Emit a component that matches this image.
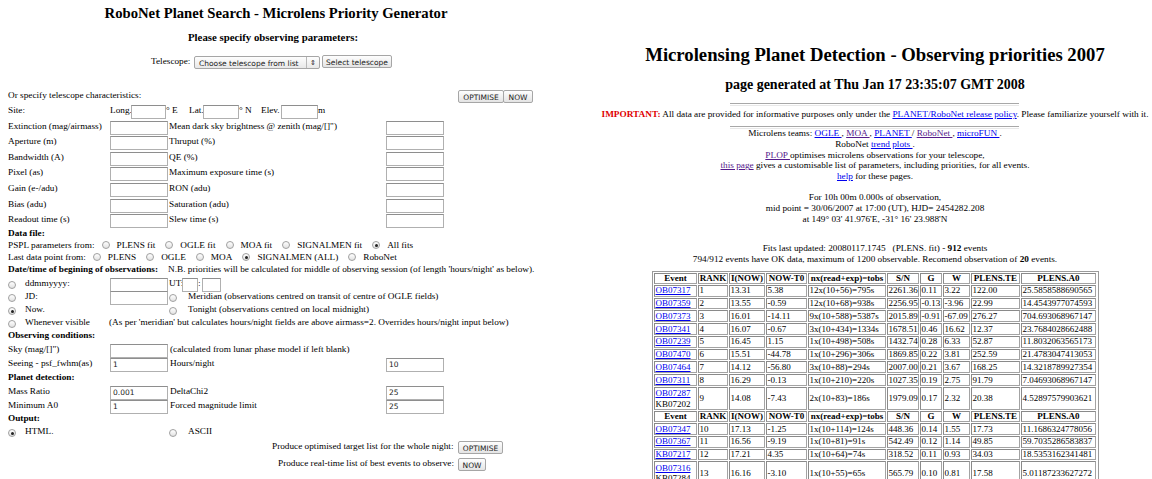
import React from 'react';

// two page screenshots: a PLOP form on the left, the priority table on the right
const paramLabels = ['Extinction (mag/airmass)', 'Aperture (m)', 'Bandwidth (A)', 'Pixel (as)', 'Gain (e-/adu)', 'Bias (adu)', 'Readout time (s)'];
const paramLabels2 = ['Mean dark sky brightness @ zenith (mag/[]")', 'Thruput (%)', 'QE (%)', 'Maximum exposure time (s)', 'RON (adu)', 'Saturation (adu)', 'Slew time (s)'];
const psplOptions = ['PLENS fit', 'OGLE fit', 'MOA fit', 'SIGNALMEN fit', 'All fits'];
const lastPointOptions = ['PLENS', 'OGLE', 'MOA', 'SIGNALMEN (ALL)', 'RoboNet'];

const headers = ['Event', 'RANK', 'I(NOW)', 'NOW-T0', 'nx(read+exp)=tobs', 'S/N', 'G', 'W', 'PLENS.TE', 'PLENS.A0'];
const eventIds = ['OB07317', 'OB07359', 'OB07373', 'OB07341', 'OB07239', 'OB07470', 'OB07464', 'OB07311', 'OB07287', 'OB07347', 'OB07367', 'KB07217', 'OB07316'];
const altIds = ['', '', '', '', '', '', '', '', 'KB07202', '', '', '', 'KB07284'];
const ranks = [1, 2, 3, 4, 5, 6, 7, 8, 9, 10, 11, 12, 13];
const iNow = [13.31, 13.55, 16.01, 16.07, 16.45, 15.51, 14.12, 16.29, 14.08, 17.13, 16.56, 17.21, 16.16];
const nowT0 = [5.38, -0.59, -14.11, -0.67, 1.15, -44.78, -56.8, -0.13, -7.43, -1.25, -9.19, 4.35, -3.1];
const exposures = ['12x(10+56)=795s', '12x(10+68)=938s', '9x(10+588)=5387s', '3x(10+434)=1334s', '1x(10+498)=508s', '1x(10+296)=306s', '3x(10+88)=294s', '1x(10+210)=220s', '2x(10+83)=186s', '1x(10+114)=124s', '1x(10+81)=91s', '1x(10+64)=74s', '1x(10+55)=65s'];
const signalNoise = [2261.36, 2256.95, 2015.89, 1678.51, 1432.74, 1869.85, 2007.0, 1027.35, 1979.09, 448.36, 542.49, 318.52, 565.79];
const gValues = [0.11, -0.13, -0.91, 0.46, 0.28, 0.22, 0.21, 0.19, 0.17, 0.14, 0.12, 0.11, 0.1];
const wValues = [3.22, -3.96, -67.09, 16.62, 6.33, 3.81, 3.67, 2.75, 2.32, 1.55, 1.14, 0.93, 0.81];
const plensTE = [122.0, 22.99, 276.27, 12.37, 52.87, 252.59, 168.25, 91.79, 20.38, 17.73, 49.85, 34.03, 17.58];
const plensA0 = ['25.5858588690565', '14.4543977074593', '704.693068967147', '23.7684028662488', '11.8032063565173', '21.4783047413053', '14.3218789927354', '7.04693068967147', '4.52897579903621', '11.1686324778056', '59.7035286583837', '18.5353162341481', '5.01187233627272'];

const SERIF = '"Liberation Serif", "Times New Roman", serif';
const SANS = '"DejaVu Sans", "Noto Sans", sans-serif';
const LINK = '#0000ee';
const VISITED = '#551a8b';
const BODY = 9.25;

function Txt({ x, y, size = BODY, bold = false, center = false, color = '#000', children }: any) {
  return (
    <div style={{
      position: 'absolute', left: x, top: y - size * 0.62, fontSize: size, lineHeight: `${size * 1.2}px`,
      fontWeight: bold ? 'bold' : 'normal', color, whiteSpace: 'nowrap', fontFamily: SERIF,
      transform: center ? 'translateX(-50%)' : undefined,
    }}>{children}</div>
  );
}

function Box({ x, y, w = 54, value = '' }: any) {
  return (
    <div style={{
      position: 'absolute', left: x, top: y - 6.5, width: w, height: 12, border: '1px solid #b0b0b0',
      borderTopColor: '#8e8e8e', background: '#fff', fontFamily: SANS, fontSize: 7.5, lineHeight: '12px',
      paddingLeft: 2, boxSizing: 'content-box', color: '#222',
    }}>{value}</div>
  );
}

function Btn({ x, y, w, label }: any) {
  return (
    <div style={{
      position: 'absolute', left: x, top: y - 7, width: w, height: 13, border: '1px solid #a6a6a6', borderRadius: 2,
      background: 'linear-gradient(#fefefe, #e4e4e4)', fontFamily: SANS, fontSize: 7.5, lineHeight: '13px',
      textAlign: 'center', color: '#222', boxSizing: 'border-box',
    }}>{label}</div>
  );
}

const radioStyle: any = {
  width: 8, height: 8, borderRadius: '50%', border: '1px solid #a0a0a0',
  background: 'linear-gradient(#fff, #e2e2e2)', boxSizing: 'border-box',
};

function Radio({ x, y, on = false }: any) {
  return (
    <div style={{ ...radioStyle, position: 'absolute', left: x - 4, top: y - 4 }}>
      {on && <div style={{ position: 'absolute', left: 2, top: 2, width: 3, height: 3, borderRadius: '50%', background: '#222' }} />}
    </div>
  );
}

function InlineRadio({ on = false }: any) {
  return (
    <span style={{ ...radioStyle, display: 'inline-block', position: 'relative', verticalAlign: '-1px', margin: '0 7px 0 7px' }}>
      {on && <span style={{ position: 'absolute', left: 2, top: 2, width: 3, height: 3, borderRadius: '50%', background: '#222' }} />}
    </span>
  );
}

function A({ children, visited = false }: any) {
  return <span style={{ color: visited ? VISITED : LINK, textDecoration: 'underline' }}>{children}</span>;
}

function RadioRow({ x, y, label, options, selected }: any) {
  return (
    <Txt x={x} y={y}>
      {label}
      {options.map((o: string, i: number) => (
        <React.Fragment key={o}>
          <InlineRadio on={i === selected} />
          <span style={{ marginRight: 3 }}>{o}</span>
        </React.Fragment>
      ))}
    </Txt>
  );
}

function LeftPage() {
  const rowY = [127, 142, 158, 173, 189, 205, 220];
  return (
    <>
      <Txt x={276} y={14} size={14.7} bold center>RoboNet Planet Search - Microlens Priority Generator</Txt>
      <Txt x={273} y={38} size={10.8} bold center>Please specify observing parameters:</Txt>
      <Txt x={151} y={62}>Telescope:</Txt>
      <div style={{
        position: 'absolute', left: 194, top: 56, width: 126, height: 13, border: '1px solid #a6a6a6', borderRadius: 2,
        background: 'linear-gradient(#fefefe, #e8e8e8)', fontFamily: SANS, fontSize: 7.5, lineHeight: '13px', paddingLeft: 4,
        boxSizing: 'border-box', color: '#222',
      }}>
        Choose telescope from list
        <div style={{ position: 'absolute', right: 0, top: 0, width: 12, height: 11, borderLeft: '1px solid #b8b8b8', fontSize: 7, textAlign: 'center' }}>⇕</div>
      </div>
      <Btn x={322} y={62} w={70} label="Select telescope" />

      <Txt x={8} y={96}>Or specify telescope characteristics:</Txt>
      <Btn x={458} y={97} w={46} label="OPTIMISE" />
      <Btn x={503} y={97} w={30} label="NOW" />

      <Txt x={8} y={111}>Site:</Txt>
      <Txt x={110} y={111}>Long.</Txt>
      <Box x={131} y={111} w={31} />
      <Txt x={166} y={111}>° E</Txt>
      <Txt x={189} y={111}>Lat.</Txt>
      <Box x={203} y={111} w={32} />
      <Txt x={239} y={111}>° N</Txt>
      <Txt x={261} y={111}>Elev.</Txt>
      <Box x={281} y={111} w={33} />
      <Txt x={318} y={111}>m</Txt>

      {paramLabels.map((lab, i) => (
        <React.Fragment key={lab}>
          <Txt x={8} y={rowY[i]}>{lab}</Txt>
          <Box x={110} y={rowY[i]} />
          <Txt x={169} y={rowY[i]}>{paramLabels2[i]}</Txt>
          <Box x={386} y={rowY[i]} />
        </React.Fragment>
      ))}

      <Txt x={8} y={234} bold>Data file:</Txt>
      <RadioRow x={8} y={246} label="PSPL parameters from:" options={psplOptions} selected={4} />
      <RadioRow x={8} y={258} label="Last data point from:" options={lastPointOptions} selected={3} />
      <Txt x={8} y={270} bold>Date/time of begining of observations:</Txt>
      <Txt x={168} y={270}>N.B. priorities will be calculated for middle of observing session (of length 'hours/night' as below).</Txt>

      <Radio x={12} y={285} />
      <Txt x={25} y={284}>ddmmyyyy:</Txt>
      <Box x={110} y={284} />
      <Txt x={169} y={284}>UT:</Txt>
      <Box x={182} y={284} w={12} />
      <Txt x={198} y={284}>:</Txt>
      <Box x={202} y={284} w={15} />

      <Radio x={12} y={298} />
      <Txt x={25} y={297}>JD:</Txt>
      <Box x={110} y={297} />
      <Radio x={173} y={298} />
      <Txt x={188} y={297}>Meridian (observations centred on transit of centre of OGLE fields)</Txt>

      <Radio x={12} y={311} on />
      <Txt x={25} y={310}>Now.</Txt>
      <Radio x={173} y={311} />
      <Txt x={188} y={310}>Tonight (observations centred on local midnight)</Txt>

      <Radio x={12} y={324} />
      <Txt x={25} y={323}>Whenever visible</Txt>
      <Txt x={109} y={323}>(As per 'meridian' but calculates hours/night fields are above airmass=2. Overrides hours/night input below)</Txt>

      <Txt x={8} y={336} bold>Observing conditions:</Txt>
      <Txt x={8} y={350}>Sky (mag/[]")</Txt>
      <Box x={110} y={350} />
      <Txt x={170} y={350}>(calculated from lunar phase model if left blank)</Txt>
      <Txt x={8} y={364}>Seeing - psf_fwhm(as)</Txt>
      <Box x={110} y={364} value="1" />
      <Txt x={170} y={364}>Hours/night</Txt>
      <Box x={386} y={364} value="10" />

      <Txt x={8} y={378} bold>Planet detection:</Txt>
      <Txt x={8} y={392}>Mass Ratio</Txt>
      <Box x={110} y={392} value="0.001" />
      <Txt x={170} y={392}>DeltaChi2</Txt>
      <Box x={386} y={392} value="25" />
      <Txt x={8} y={406}>Minimum A0</Txt>
      <Box x={110} y={406} value="1" />
      <Txt x={170} y={406}>Forced magnitude limit</Txt>
      <Box x={386} y={406} value="25" />

      <Txt x={8} y={419} bold>Output:</Txt>
      <Radio x={12} y={433} on />
      <Txt x={25} y={432}>HTML.</Txt>
      <Radio x={173} y={433} />
      <Txt x={188} y={432}>ASCII</Txt>

      <Txt x={272} y={447}>Produce optimised target list for the whole night:</Txt>
      <Btn x={458} y={448} w={45} label="OPTIMISE" />
      <Txt x={278} y={464}>Produce real-time list of best events to observe:</Txt>
      <Btn x={458} y={465} w={28} label="NOW" />
    </>
  );
}

function Hr({ y }: any) {
  return <div style={{ position: 'absolute', left: 730, top: y, width: 289, height: 1, borderTop: '1px solid #a8a8a8', borderBottom: '1px solid #e8e8e8' }} />;
}

function PriorityTable() {
  const colX = [654, 698, 729, 766, 808, 887, 920, 943, 971, 1021];
  const colW = [43, 30, 36, 41, 78, 32, 22, 27, 49, 75];
  const rows: any[] = [];
  let y = 273;
  const pushHeader = () => { rows.push({ header: true, y, h: 11.5 }); y += 11.75; };
  pushHeader();
  eventIds.forEach((id, i) => {
    const h = altIds[i] ? 24.5 : 12.75;
    rows.push({ i, y, h });
    y += h;
    if (i === 8) pushHeader();
  });
  const cellText = (i: number) => [
    null, String(ranks[i]), iNow[i].toFixed(2), nowT0[i].toFixed(2), exposures[i],
    signalNoise[i].toFixed(2), gValues[i].toFixed(2), wValues[i].toFixed(2), plensTE[i].toFixed(2), plensA0[i],
  ];
  return (
    <>
      <div style={{ position: 'absolute', left: 652, top: 271, width: 447, height: y - 271 + 20, border: '1px solid #9a9a9a', boxSizing: 'border-box' }} />
      {rows.map((r, k) => colX.map((x, c) => {
        const style: any = {
          position: 'absolute', left: x, top: r.y, width: colW[c], height: r.h - 1, border: '1px solid #a3a3a3',
          borderTopColor: '#8a8a8a', borderLeftColor: '#8a8a8a', boxSizing: 'border-box', fontFamily: SERIF, fontSize: 9,
          whiteSpace: 'nowrap', overflow: 'hidden', paddingLeft: 0.5, display: 'flex', flexDirection: 'column', justifyContent: 'center',
          lineHeight: '10.5px', background: '#fff',
        };
        if (r.header) {
          return <div key={`${k}-${c}`} style={{ ...style, fontWeight: 'bold', textAlign: 'center', paddingLeft: 0 }}>{headers[c]}</div>;
        }
        const vals = cellText(r.i);
        return (
          <div key={`${k}-${c}`} style={style}>
            {c === 0 ? (
              <>
                <A>{eventIds[r.i]}</A>
                {altIds[r.i] && <span>{altIds[r.i]}</span>}
              </>
            ) : vals[c]}
          </div>
        );
      }))}
    </>
  );
}

function RightPage() {
  const cx = 875;
  return (
    <>
      <Txt x={cx} y={56} size={18.7} bold center>Microlensing Planet Detection - Observing priorities 2007</Txt>
      <Txt x={cx} y={86} size={14} bold center>page generated at Thu Jan 17 23:35:07 GMT 2008</Txt>
      <Hr y={103} />
      <Txt x={cx} y={115} center>
        <span style={{ color: '#e00000', fontWeight: 'bold' }}>IMPORTANT:</span> All data are provided for informative purposes only under the <A>PLANET/RoboNet release policy</A>. Please familiarize yourself with it.
      </Txt>
      <Hr y={126} />
      <Txt x={cx} y={134} center>Microlens teams: <A>OGLE </A>, <A visited>MOA </A>, <A>PLANET </A>/ <A visited>RoboNet </A>, <A>microFUN </A>.</Txt>
      <Txt x={cx} y={145} center>RoboNet <A>trend plots </A>.</Txt>
      <Txt x={cx} y={156} center><A visited>PLOP </A>optimises microlens observations for your telescope,</Txt>
      <Txt x={cx} y={166} center><A visited>this page</A> gives a customisable list of parameters, including priorities, for all events.</Txt>
      <Txt x={cx} y={177} center><A>help</A> for these pages.</Txt>
      <Txt x={cx} y={198} center>For 10h 00m 0.000s of observation,</Txt>
      <Txt x={cx} y={209} center>mid point = 30/06/2007 at 17:00 (UT), HJD= 2454282.208</Txt>
      <Txt x={cx} y={220} center>at 149° 03' 41.976'E, -31° 16' 23.988'N</Txt>
      <Txt x={cx} y={249} center>Fits last updated: 20080117.1745 &nbsp; (PLENS. fit) - <b>912</b> events</Txt>
      <Txt x={cx} y={260} center>794/912 events have OK data, maximum of 1200 observable. Recomend observation of <b>20</b> events.</Txt>
      <PriorityTable />
    </>
  );
}

export default function App() {
  return (
    <div style={{ position: 'fixed', left: 0, top: 0, width: 1152, height: 479, overflow: 'hidden', background: '#fff', fontFamily: SERIF }}>
      <LeftPage />
      <RightPage />
    </div>
  );
}
